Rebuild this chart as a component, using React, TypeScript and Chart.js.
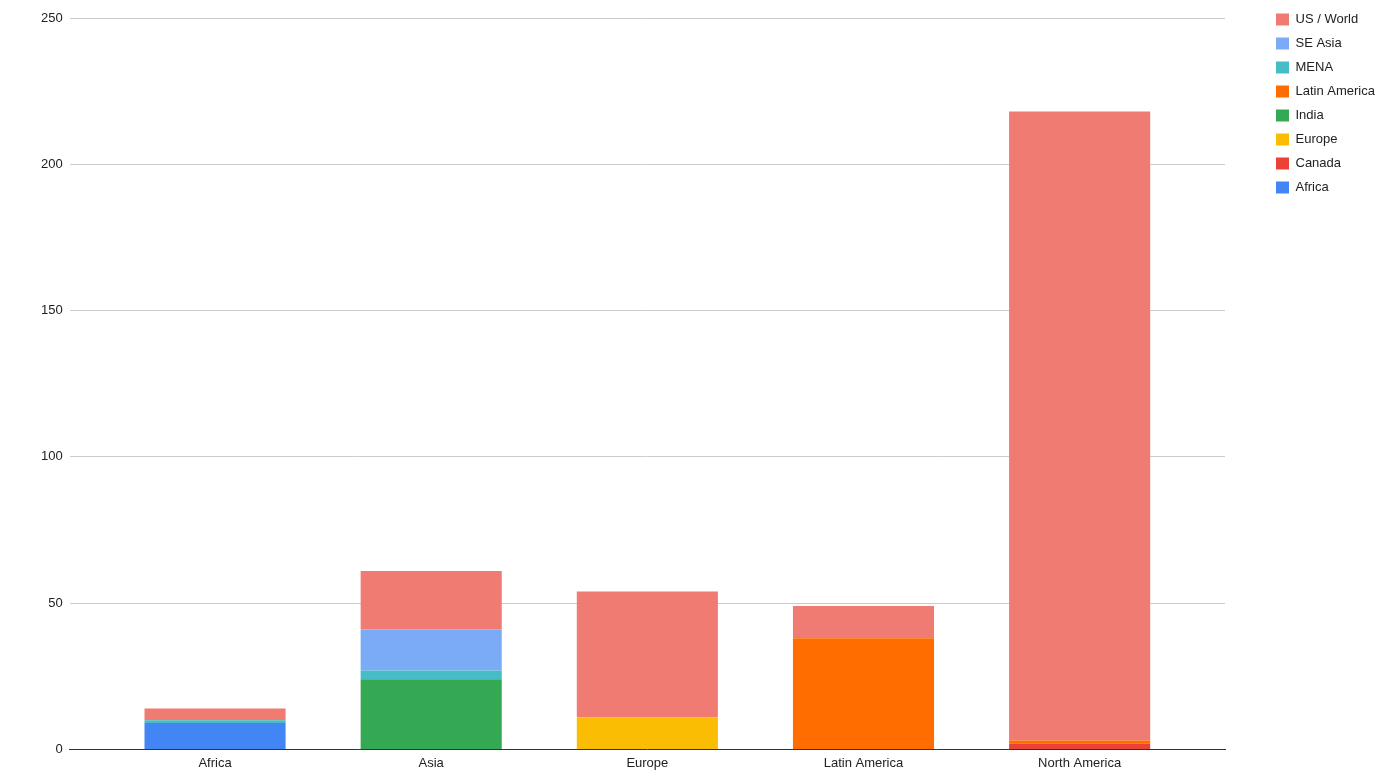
import React, { useEffect, useRef } from "react";
import { Chart, registerables } from "chart.js";

Chart.register(...registerables);

const categories = ["Africa", "Asia", "Europe", "Latin America", "North America"];
const seriesNames = ["Africa", "Canada", "Europe", "India", "Latin America", "MENA", "SE Asia", "US / World"];
const seriesColors = ["#4285F4", "#EA4335", "#FBBC04", "#34A853", "#FF6D01", "#46BDC6", "#7BAAF7", "#F07B72"];
const africaValues = [9, 0, 0, 0, 0];
const canadaValues = [0, 0, 0, 0, 2];
const europeValues = [0, 0, 11, 0, 0];
const indiaValues = [0, 24, 0, 0, 0];
const latinAmericaValues = [0, 0, 0, 38, 1];
const menaValues = [1, 3, 0, 0, 0];
const seAsiaValues = [0, 14, 0, 0, 0];
const usWorldValues = [4, 20, 43, 11, 215];
const seriesValues = [africaValues, canadaValues, europeValues, indiaValues, latinAmericaValues, menaValues, seAsiaValues, usWorldValues];
const yTicks = [0, 50, 100, 150, 200, 250];

const FONT = "'Liberation Sans', Arial, sans-serif";

export default function App() {
  const ref = useRef<HTMLCanvasElement | null>(null);

  useEffect(() => {
    if (!ref.current) return;
    const legendPlugin = {
      id: "legendPlacer",
      beforeLayout(chart: any) {
        const lg = chart.legend;
        if (lg && !lg.__patched) {
          const orig = lg.fit;
          lg.fit = function () {
            orig.call(this);
            this.width = 175;
          };
          lg.__patched = true;
        }
      },
      afterLayout(chart: any) {
        const lg = chart.legend;
        if (lg) {
          lg.left += 40;
          lg.right += 40;
          const h = lg.bottom - lg.top;
          lg.top = 2;
          lg.bottom = 2 + h;
        }
      },
    };

    const chart = new Chart(ref.current, {
      type: "bar",
      data: {
        datasets: seriesNames.map((name, si) => ({
          label: name,
          data: seriesValues[si].map((v, i) => ({ x: i, y: v })),
          backgroundColor: seriesColors[si],
          borderColor: seriesColors[si],
          borderWidth: 0,
          categoryPercentage: 141 / 216,
          barPercentage: 1,
        })),
      },
      options: {
        animation: false,
        responsive: true,
        maintainAspectRatio: false,
        layout: { padding: { left: 34, top: 18, bottom: 6, right: 0 } },
        plugins: {
          tooltip: { enabled: false },
          legend: {
            position: "right",
            align: "start",
            reverse: true,
            labels: {
              boxWidth: 13,
              boxHeight: 12,
              padding: 11,
              color: "#222",
              font: { family: FONT, size: 13 },
            },
          },
        },
        scales: {
          x: {
            type: "linear",
            stacked: true,
            offset: false,
            min: -0.6725,
            max: 4.6725,
            afterBuildTicks: (scale: any) => {
              scale.ticks = categories.map((_, i) => ({ value: i }));
            },
            grid: { display: false, drawTicks: false, offset: false },
            border: { display: true, color: "#333", width: 1 },
            ticks: {
              autoSkip: false,
              maxRotation: 0,
              padding: 6,
              color: "#222",
              font: { family: FONT, size: 13 },
              callback: (v: any) => categories[Number(v)] ?? "",
            },
          },
          y: {
            stacked: true,
            min: 0,
            max: 250,
            afterBuildTicks: (scale: any) => {
              scale.ticks = yTicks.map((v) => ({ value: v }));
            },
            grid: { color: "#cccccc", lineWidth: 1, drawTicks: false },
            border: { display: false },
            ticks: {
              padding: 7,
              color: "#222",
              font: { family: FONT, size: 13 },
            },
          },
        },
      },
      plugins: [legendPlugin],
    } as any);
    return () => chart.destroy();
  }, []);

  return (
    <div style={{ position: "absolute", left: 0, top: 0, width: 1400, height: 783, background: "#fff" }}>
      <canvas ref={ref} />
    </div>
  );
}
